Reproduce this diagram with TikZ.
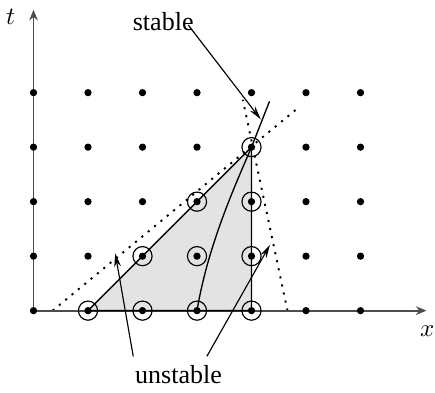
\documentclass[tikz,border=0pt]{standalone}
\usepackage{fontspec}
\setmainfont{Liberation Serif}
\usepackage{unicode-math}
\setmathfont{Latin Modern Math}
\usetikzlibrary{arrows.meta}
\begin{document}
\begin{tikzpicture}[
  axis/.style={line width=1pt, draw=black!70, -{Stealth[length=5.5pt,width=4.5pt,fill=black]}},
  pt/.style={circle, fill=black, inner sep=0pt, minimum size=3.8pt},
  ring/.style={circle, draw=black, line width=0.6pt, inner sep=0pt, minimum size=10pt},
  curve/.style={line width=0.7pt},
  dotline/.style={line width=1pt, dash pattern=on 1.1pt off 3.2pt},
  pointer/.style={line width=0.6pt, -{Stealth[length=7pt,width=3.5pt]}},
  lab/.style={font=\fontsize{13.6}{16}\selectfont, inner sep=1pt},
  mlab/.style={font=\fontsize{13}{15}\selectfont, inner sep=0pt}
]
\useasboundingbox (-0.615,-1.51) rectangle (7.367,5.70);
% shaded region
\fill[black!11] (1,0) -- (4,3) -- (4,0) -- cycle;
% dotted lines
\coordinate (d1a) at (0.35,0);
\coordinate (d1b) at (4.83,3.70);
\coordinate (d2a) at (4.66,0);
\coordinate (d2b) at (3.84,3.87);
\draw[dotline] (d1a) -- (d1b);
\draw[dotline] (d2a) -- (d2b);
% axes
\coordinate (O) at (0,0);
\coordinate (T) at (0,5.52);
\coordinate (X) at (7.21,0);
\draw[axis] (O) -- (T);
\draw[axis] (O) -- (X);
\node[mlab] (tl) at (-0.41,5.40) {$t$};
\node[mlab] (xl) at (7.24,-0.37) {$x$};
% triangle edges
\coordinate (A) at (1,0);
\coordinate (B) at (4,0);
\coordinate (C) at (4,3);
\coordinate (E) at (4.33,3.84);
\coordinate (S) at (3,0);
\draw[curve] (A) -- (C) -- (B) -- (A);
\draw[curve] (S) .. controls (3.2,1.2) and (3.7,2.3) .. (C) -- (E);
% grid points
\foreach \i in {0,...,6}{
  \foreach \j in {0,...,4}{
    \node[pt] (p\i\j) at (\i,\j) {};
  }
}
% rings
\foreach \i/\j in {1/0,2/0,3/0,4/0,2/1,3/1,4/1,3/2,4/2,4/3}{
  \node[ring] (r\i\j) at (\i,\j) {};
}
% labels
\node[lab] (stable) at (2.38,5.30) {stable};
\node[lab] (unstable) at (2.66,-1.18) {unstable};
\coordinate (sa) at (2.84,5.24);
\coordinate (st) at (4.17,3.51);
\draw[pointer] (sa) -- (st);
\coordinate (u1a) at (1.83,-0.84);
\coordinate (u1t) at (1.50,1.05);
\coordinate (u2a) at (3.18,-0.84);
\coordinate (u2t) at (4.34,1.21);
\draw[pointer] (u1a) -- (u1t);
\draw[pointer] (u2a) -- (u2t);
\end{tikzpicture}
\end{document}
